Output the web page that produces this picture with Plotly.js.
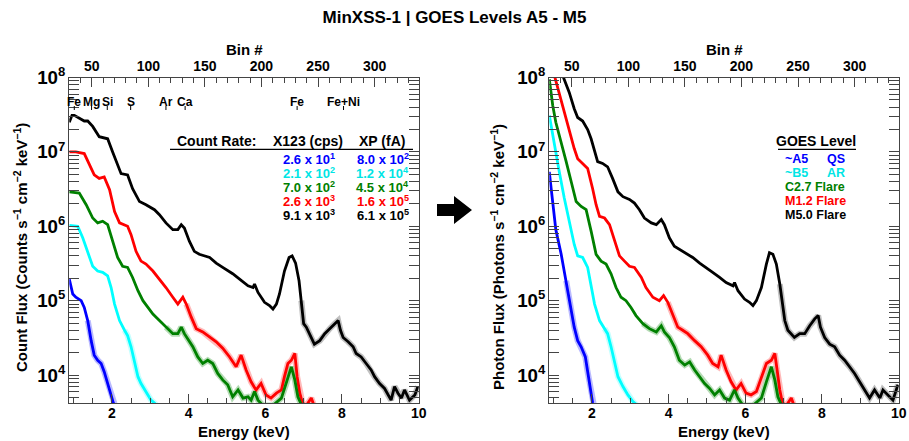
<!DOCTYPE html>
<html>
<head>
<meta charset="utf-8">
<script src="https://cdn.plot.ly/plotly-3.0.1.min.js"></script>
<style>html,body{margin:0;padding:0;background:#fff;}#chart{width:909px;height:441px;}</style>
</head>
<body>
<div id="chart"></div>
<script>
// ---------------- DATA ----------------
// Left panel: Count flux (counts s^-1 cm^-2 keV^-1) vs energy (keV)
const E_cnt_M5 = [0.89,0.96,1.02,1.15,1.28,1.37,1.50,1.67,1.89,2.02,2.15,2.24,2.41,2.54,2.72,2.89,3.11,3.24,3.41,3.59,3.72,3.81,3.89,4.02,4.15,4.28,4.55,4.72,4.89,5.15,5.33,5.55,5.68,5.72,5.81,5.98,6.11,6.20,6.29,6.37,6.50,6.62,6.70,6.79,6.88,6.94,7.00,7.07,7.20,7.28,7.42,7.55,7.68,7.81,7.90,7.96,8.03,8.16,8.29,8.37,8.50,8.63,8.76,8.85,8.98,9.11,9.20,9.28,9.37,9.46,9.55,9.63,9.76,9.90,9.98];
const F_cnt_M5 = [2.5e7,3.1e7,3.1e7,2.8e7,2.6e7,2.6e7,2.2e7,1.6e7,1.5e7,1.0e7,6.6e6,5.1e6,4.9e6,3.2e6,2.15e6,1.95e6,1.67e6,1.43e6,1.11e6,9.0e5,9.0e5,1.05e6,9.5e5,6.3e5,4.6e5,4.2e5,3.8e5,3.2e5,2.8e5,2.3e5,1.95e5,1.58e5,1.5e5,1.67e5,1.29e5,9.5e4,8.6e4,7.7e4,9.0e4,1.23e5,2.5e5,3.8e5,4.0e5,3.2e5,1.85e5,1.0e5,4.9e4,4.4e4,3.2e4,2.6e4,2.9e4,3.6e4,4.2e4,4.9e4,5.4e4,4.0e4,3.2e4,2.8e4,2.4e4,1.95e4,1.75e4,1.43e4,1.17e4,9.5e3,7.7e3,6.6e3,5.4e3,4.6e3,7.0e3,5.7e3,4.9e3,6.3e3,4.6e3,5.4e3,7.0e3];

const E_cnt_M1 = [0.89,1.06,1.28,1.41,1.54,1.67,1.80,1.94,2.07,2.20,2.33,2.41,2.50,2.63,2.76,2.89,3.07,3.24,3.41,3.59,3.72,3.85,3.94,4.07,4.20,4.37,4.55,4.72,4.89,5.07,5.24,5.37,5.50,5.63,5.76,5.89,6.02,6.15,6.29,6.42,6.50,6.59,6.68,6.77,6.83,6.90,6.97,7.07,7.20,7.27];
const F_cnt_M1 = [1.0e7,1.0e7,9.5e6,7.0e6,4.9e6,4.4e6,4.6e6,3.1e6,1.58e6,1.11e6,1.05e6,1.0e6,7.7e5,4.6e5,3.4e5,3.1e5,2.5e5,1.95e5,1.5e5,1.11e5,9.0e4,1.11e5,9.0e4,6.0e4,4.2e4,3.8e4,3.2e4,2.8e4,2.3e4,1.75e4,1.29e4,1.85e4,1.17e4,8.1e3,6.3e3,7.7e3,5.4e3,4.9e3,5.7e3,6.3e3,9.5e3,1.43e4,1.58e4,1.95e4,9.5e3,5.7e3,4.2e3,3.9e3,4.9e3,3.9e3];

const E_cnt_C2 = [0.89,1.15,1.33,1.50,1.63,1.76,1.89,2.02,2.15,2.28,2.41,2.54,2.68,2.81,2.94,3.07,3.24,3.41,3.59,3.72,3.81,3.89,3.98,4.11,4.24,4.37,4.50,4.63,4.76,4.89,5.02,5.15,5.29,5.42,5.55,5.63,5.72,5.81,5.94,6.20,6.42,6.55,6.68,6.77,6.85,6.94];
const F_cnt_C2 = [2.9e6,2.8e6,1.95e6,1.29e6,1.11e6,1.17e6,1.05e6,6.3e5,3.8e5,2.9e5,2.8e5,2.05e5,1.36e5,1.0e5,8.1e4,6.6e4,5.4e4,4.4e4,3.6e4,3.6e4,4.4e4,3.6e4,3.1e4,2.4e4,1.75e4,1.43e4,1.58e4,1.43e4,1.05e4,8.6e3,7.4e3,5.1e3,6.3e3,4.9e3,5.1e3,4.6e3,6.0e3,4.6e3,3.9e3,3.9e3,4.9e3,7.7e3,1.29e4,8.6e3,5.1e3,4.0e3];

const E_cnt_B5 = [0.89,1.11,1.24,1.37,1.50,1.63,1.76,1.89,1.98,2.07,2.20,2.33,2.41,2.50,2.59,2.68,2.76,2.85,2.94,3.02,3.11,3.20];
const F_cnt_B5 = [1.03e6,1.0e6,7.0e5,4.4e5,2.9e5,2.5e5,2.4e5,2.15e5,1.5e5,9.0e4,5.4e4,4.0e4,3.4e4,2.4e4,1.43e4,9.5e3,7.7e3,6.3e3,5.4e3,4.6e3,4.2e3,3.7e3];

const E_cnt_A5 = [0.89,0.98,1.06,1.20,1.28,1.37,1.46,1.54,1.63,1.72,1.80,1.89,1.98,2.04,2.11];
const F_cnt_A5 = [1.95e5,1.23e5,1.11e5,1.0e5,8.1e4,5.4e4,2.9e4,1.85e4,1.58e4,1.43e4,1.11e4,7.7e3,5.4e3,4.2e3,3.5e3];

// Right panel: Photon flux (photons s^-1 cm^-2 keV^-1) vs energy (keV)
const E_ph_M5 = [1.15,1.28,1.41,1.54,1.63,1.76,1.89,1.98,2.07,2.15,2.28,2.41,2.54,2.68,2.81,2.98,3.11,3.24,3.37,3.55,3.68,3.81,3.89,4.02,4.15,4.28,4.46,4.63,4.81,4.98,5.15,5.33,5.50,5.68,5.72,5.81,5.98,6.11,6.20,6.29,6.42,6.55,6.63,6.72,6.81,6.90,6.97,7.03,7.11,7.20,7.28,7.42,7.55,7.68,7.81,7.90,7.96,8.07,8.20,8.33,8.46,8.59,8.72,8.85,8.98,9.11,9.24,9.37,9.51,9.59,9.72,9.85,9.98];
const F_ph_M5 = [1.4e8,9.5e7,6.3e7,3.8e7,2.9e7,2.6e7,2.0e7,1.5e7,1.0e7,7.4e6,7.0e6,6.3e6,4.4e6,2.9e6,2.5e6,2.3e6,2.05e6,1.67e6,1.29e6,1.11e6,1.05e6,1.23e6,1.05e6,7.0e5,5.4e5,4.9e5,4.4e5,3.8e5,3.2e5,2.8e5,2.4e5,2.05e5,1.75e5,1.58e5,1.75e5,1.36e5,1.05e5,9.5e4,8.6e4,1.0e5,1.5e5,3.1e5,4.4e5,4.2e5,3.1e5,1.67e5,9.0e4,5.4e4,4.0e4,3.6e4,3.2e4,3.6e4,3.6e4,4.6e4,5.7e4,6.3e4,4.4e4,3.2e4,2.6e4,2.4e4,1.85e4,1.58e4,1.29e4,1.05e4,8.1e3,6.3e3,4.9e3,6.3e3,4.9e3,6.3e3,5.4e3,4.6e3,7.4e3];

const E_ph_M1 = [0.96,1.05,1.15,1.28,1.41,1.54,1.63,1.76,1.89,2.02,2.11,2.20,2.33,2.46,2.59,2.72,2.85,2.98,3.11,3.29,3.41,3.59,3.76,3.87,3.98,4.11,4.24,4.37,4.50,4.68,4.85,5.02,5.15,5.29,5.37,5.50,5.63,5.76,5.89,6.02,6.15,6.29,6.42,6.55,6.68,6.77,6.83,6.90,6.97,7.07,7.20,7.27];
const F_ph_M1 = [1.4e8,9.5e7,5.7e7,3.4e7,2.0e7,1.11e7,8.1e6,7.0e6,6.0e6,3.2e6,1.95e6,1.36e6,1.29e6,1.05e6,6.3e5,4.0e5,3.4e5,2.9e5,2.8e5,2.05e5,1.5e5,1.11e5,1.0e5,1.17e5,9.5e4,6.6e4,4.4e4,4.0e4,3.6e4,2.9e4,2.4e4,1.85e4,1.43e4,1.29e4,1.85e4,1.17e4,8.1e3,6.3e3,7.7e3,5.7e3,5.4e3,6.0e3,9.0e3,1.43e4,1.58e4,1.95e4,1.17e4,6.3e3,4.2e3,3.9e3,4.9e3,3.9e3];

const E_ph_C2 = [0.89,0.98,1.06,1.20,1.33,1.46,1.59,1.72,1.85,1.98,2.11,2.24,2.37,2.50,2.63,2.76,2.89,3.02,3.15,3.33,3.50,3.68,3.81,3.89,4.02,4.15,4.28,4.42,4.55,4.68,4.81,4.94,5.07,5.20,5.33,5.46,5.59,5.72,5.81,5.94,6.20,6.42,6.55,6.68,6.77,6.85,6.94];
const F_ph_C2 = [9.5e7,4.2e7,2.5e7,1.36e7,7.4e6,4.0e6,2.15e6,1.85e6,1.67e6,8.6e5,4.2e5,3.4e5,3.1e5,2.3e5,1.5e5,1.11e5,1.0e5,8.1e4,6.3e4,4.9e4,4.2e4,3.8e4,4.6e4,3.8e4,3.2e4,2.4e4,1.58e4,1.36e4,1.5e4,1.17e4,9.5e3,7.7e3,6.6e3,5.4e3,6.3e3,4.9e3,4.6e3,6.3e3,4.9e3,3.9e3,3.9e3,4.9e3,8.1e3,1.29e4,8.6e3,5.1e3,4.0e3];

const E_ph_B5 = [0.89,1.02,1.15,1.28,1.41,1.54,1.63,1.76,1.89,1.98,2.07,2.20,2.33,2.41,2.50,2.59,2.68,2.81,2.94,3.07,3.15,3.24];
const F_ph_B5 = [3.1e7,1.23e7,5.4e6,2.4e6,1.17e6,5.7e5,4.0e5,3.8e5,2.8e5,1.67e5,9.0e4,5.4e4,4.2e4,3.6e4,2.4e4,1.43e4,9.5e3,7.0e3,5.4e3,4.4e3,4.0e3,3.7e3];

const E_ph_A5 = [0.89,0.98,1.06,1.20,1.33,1.43,1.54,1.63,1.72,1.83,1.88,1.95,2.02,2.09];
const F_ph_A5 = [5.4e6,1.95e6,9.0e5,4.2e5,1.85e5,9.0e4,4.4e4,2.9e4,2.4e4,1.75e4,1.17e4,7.0e3,4.2e3,3.1e3];

// Labels / table text
const seriesColors = ['#000000','#ff0000','#008000','#00ffff','#0000ff'];   // M5, M1.2, C2.7, B5, A5
const haloColors   = ['rgba(140,140,140,0.55)','rgba(255,140,140,0.6)','rgba(120,190,120,0.55)','rgba(160,255,255,0.6)','rgba(130,130,255,0.55)'];
const noisyFrom    = [6.9, 3.9, 3.3, 2.3, 1.3];   // keV where the error band becomes visible
const goesLabels  = ['~A5','~B5','C2.7 Flare','M1.2 Flare','M5.0 Flare'];
const goesRegion  = ['QS','AR','','',''];
const goesColors  = ['#0000ff','#00e5e5','#008000','#ff0000','#000000'];
const x123Mant = [2.6,2.1,7.0,2.6,9.1];
const x123Exp  = [1,2,2,3,3];
const xpMant   = [8.0,1.2,4.5,1.6,6.1];
const xpExp    = [2,4,4,5,5];
const lineLabels   = ['Fe','Mg','Si','S','Ar','Ca','Fe','Fe+Ni'];
const lineEnergies = [1.02,1.47,1.88,2.49,3.41,3.91,6.83,8.04];
const energyTicks = [2,4,6,8,10];
const binTicks = [50,100,150,200,250,300];

// ---------------- LAYOUT HELPERS ----------------
const W = 909, H = 441;
const px = x => x / W;
const py = y => 1 - y / H;
const FONT = 'Liberation Sans, Arial, Helvetica, sans-serif';
const bold = (size, color) => ({family: FONT, size: size, color: color || '#000', weight: 'bold'});

const LX = [69.3, 418.7], RX = [549.3, 898.7], PY = [77.5, 403.3];
const E_RANGE = [0.89, 10];
const KEV_PER_BIN = 0.0295;
const BIN_RANGE = [E_RANGE[0] / KEV_PER_BIN, E_RANGE[1] / KEV_PER_BIN];
const Y_RANGE = [3.62, 8.0];

const lineCol = '#444';
function energyAxis(domain, anchor) {
  return {domain: domain, anchor: anchor, range: E_RANGE, tickmode: 'array', tickvals: energyTicks,
    ticks: 'inside', ticklen: 9, tickwidth: 1, tickcolor: lineCol, ticklabelstandoff: -3,
    minor: {ticks: 'inside', ticklen: 5, dtick: 0.5, tickcolor: lineCol, showgrid: false},
    showline: true, linecolor: lineCol, linewidth: 1, mirror: true,
    showgrid: false, zeroline: false, tickfont: bold(14)};
}
function binAxis(overlay, anchor) {
  return {overlaying: overlay, anchor: anchor, side: 'top', range: BIN_RANGE,
    tickmode: 'array', tickvals: binTicks,
    ticks: 'inside', ticklen: 9, tickwidth: 1, tickcolor: lineCol,
    minor: {ticks: 'inside', ticklen: 5, dtick: 10, tick0: 0, tickcolor: lineCol, showgrid: false},
    showline: true, linecolor: lineCol, linewidth: 1,
    showgrid: false, zeroline: false, tickfont: bold(14)};
}
function fluxAxis(anchor) {
  return {domain: [py(PY[1]), py(PY[0])], anchor: anchor, type: 'log', range: Y_RANGE,
    dtick: 1, exponentformat: 'power', showexponent: 'all',
    ticks: 'inside', ticklen: 10, tickwidth: 1, tickcolor: lineCol,
    minor: {ticks: 'inside', ticklen: 5, dtick: 'D1', tickcolor: lineCol, showgrid: false},
    showline: true, linecolor: lineCol, linewidth: 1, mirror: 'allticks',
    showgrid: false, zeroline: false, tickfont: bold(15)};
}

function spec(x, y, color, xa, ya) {
  return {x: x, y: y, xaxis: xa, yaxis: ya, type: 'scatter', mode: 'lines',
    line: {color: color, width: 2.8}, hoverinfo: 'skip', showlegend: false};
}
function halo(x, y, k, xa, ya) {
  const xs = [], ys = [];
  for (let i = 0; i < x.length; i++) if (x[i] >= noisyFrom[k]) { xs.push(x[i]); ys.push(y[i]); }
  return {x: xs, y: ys, xaxis: xa, yaxis: ya, type: 'scatter', mode: 'lines',
    line: {color: haloColors[k], width: 6}, hoverinfo: 'skip', showlegend: false};
}

const left  = [[E_cnt_M5, F_cnt_M5],[E_cnt_M1, F_cnt_M1],[E_cnt_C2, F_cnt_C2],[E_cnt_B5, F_cnt_B5],[E_cnt_A5, F_cnt_A5]];
const right = [[E_ph_M5, F_ph_M5],[E_ph_M1, F_ph_M1],[E_ph_C2, F_ph_C2],[E_ph_B5, F_ph_B5],[E_ph_A5, F_ph_A5]];
const traces = [];
left.forEach((s, k) => traces.push(halo(s[0], s[1], k, 'x', 'y')));
right.forEach((s, k) => traces.push(halo(s[0], s[1], k, 'x3', 'y2')));
left.forEach((s, k) => traces.push(spec(s[0], s[1], seriesColors[k], 'x', 'y')));
right.forEach((s, k) => traces.push(spec(s[0], s[1], seriesColors[k], 'x3', 'y2')));
traces.push({x: [], y: [], xaxis: 'x2', yaxis: 'y', type: 'scatter', mode: 'lines', showlegend: false});
traces.push({x: [], y: [], xaxis: 'x4', yaxis: 'y2', type: 'scatter', mode: 'lines', showlegend: false});

// ---------------- ANNOTATIONS ----------------
function txt(text, x, y, size, color, extra) {
  return Object.assign({text: text, x: px(x), y: py(y), xref: 'paper', yref: 'paper',
    showarrow: false, font: bold(size, color), xanchor: 'center', yanchor: 'middle', borderpad: 0}, extra || {});
}
const ann = [];
const fluxUnits = ' s<sup>−1</sup> cm<sup>−2</sup> keV<sup>−1</sup>)';
ann.push(txt('Count Flux (Counts' + fluxUnits, 20, 248, 15, '#000', {textangle: -90}));
ann.push(txt('Photon Flux (Photons' + fluxUnits, 497, 257, 15, '#000', {textangle: -90}));
ann.push(txt('Energy (keV)', 244, 431, 15));
ann.push(txt('Energy (keV)', 724, 431, 15));
ann.push(txt('Bin #', 244, 50, 15));
ann.push(txt('Bin #', 724, 50, 15));

ann.push(txt('Count Rate:', 216, 141, 14));
ann.push(txt('X123 (cps)', 308, 141, 14));
ann.push(txt('XP (fA)', 382, 141, 14));
const rowY = [159.3, 173.3, 187.3, 201, 215];
const tableColors = ['#0000ff','#00e5e5','#008000','#ff0000','#000000'];
for (let i = 0; i < 5; i++) {
  ann.push(txt(x123Mant[i].toFixed(1) + ' x 10<sup>' + x123Exp[i] + '</sup>', 308.5, rowY[i], 13, tableColors[i]));
  ann.push(txt(xpMant[i].toFixed(1) + ' x 10<sup>' + xpExp[i] + '</sup>', 382.5, rowY[i], 13, tableColors[i]));
}
ann.push(txt('GOES Level', 816, 141, 14));
for (let i = 0; i < 5; i++) {
  ann.push(txt(goesLabels[i], 784.3, rowY[i], 12.5, goesColors[i], {xanchor: 'left'}));
  if (goesRegion[i]) ann.push(txt(goesRegion[i], 846, rowY[i], 12.5, goesColors[i], {xanchor: 'right'}));
}
for (let i = 0; i < lineLabels.length; i++) {
  ann.push({text: lineLabels[i], x: lineEnergies[i], y: py(102), xref: 'x', yref: 'paper',
    showarrow: false, font: bold(12), xanchor: 'center', yanchor: 'middle', borderpad: 0});
}

// ---------------- SHAPES ----------------
const shapes = [];
shapes.push({type: 'line', xref: 'paper', yref: 'paper', x0: px(170), x1: px(413), y0: py(149.3), y1: py(149.3), line: {color: '#000', width: 1.2}});
shapes.push({type: 'line', xref: 'paper', yref: 'paper', x0: px(778), x1: px(856), y0: py(149.3), y1: py(149.3), line: {color: '#000', width: 1.2}});
for (let i = 0; i < lineEnergies.length; i++) {
  shapes.push({type: 'line', xref: 'x', yref: 'paper', x0: lineEnergies[i], x1: lineEnergies[i], y0: py(110), y1: py(106), line: {color: '#000', width: 1}});
}
const arrowPts = [[437,204],[454,204],[454,196],[472,210],[454,224],[454,216],[437,216]];
shapes.push({type: 'path', xref: 'paper', yref: 'paper',
  path: 'M ' + arrowPts.map(p => px(p[0]) + ',' + py(p[1])).join(' L ') + ' Z',
  fillcolor: '#000', line: {color: '#000', width: 0}});

const layout = {
  width: W, height: H, margin: {l: 0, r: 0, t: 0, b: 0},
  paper_bgcolor: '#fff', plot_bgcolor: '#fff', showlegend: false,
  title: {text: 'MinXSS-1 | GOES Levels A5 - M5', font: bold(17), x: 0.5, xanchor: 'center',
          xref: 'paper', y: py(17), yanchor: 'middle', yref: 'container'},
  xaxis: energyAxis([px(LX[0]), px(LX[1])], 'y'),
  xaxis2: binAxis('x', 'y'),
  xaxis3: energyAxis([px(RX[0]), px(RX[1])], 'y2'),
  xaxis4: binAxis('x3', 'y2'),
  yaxis: fluxAxis('x'),
  yaxis2: fluxAxis('x3'),
  annotations: ann,
  shapes: shapes
};

Plotly.newPlot('chart', traces, layout, {displayModeBar: false, staticPlot: true});
</script>
</body>
</html>
